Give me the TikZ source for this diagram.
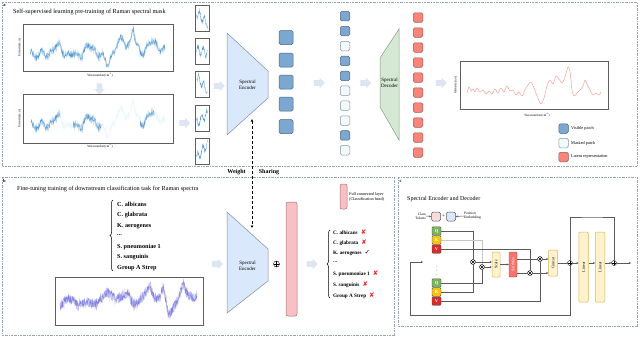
\documentclass[tikz,border=0pt]{standalone}
\usepackage{fontspec}
\setmainfont{Liberation Serif}
\newfontfamily\dejavu{DejaVu Sans}
\usetikzlibrary{shapes.arrows,decorations.pathreplacing,arrows.meta,calc}

\definecolor{encfill}{HTML}{DAE8FC}
\definecolor{encdraw}{HTML}{7F8FA8}
\definecolor{decfill}{HTML}{D5E8D4}
\definecolor{decdraw}{HTML}{8A9A88}
\definecolor{visfill}{HTML}{7BA7D0}
\definecolor{visdraw}{HTML}{4F6780}
\definecolor{maskfill}{HTML}{F2FAFD}
\definecolor{maskdraw}{HTML}{8A96A2}
\definecolor{latfill}{HTML}{F7857A}
\definecolor{latdraw}{HTML}{9A5A55}
\definecolor{fatarr}{HTML}{DDE5F3}
\definecolor{panel}{HTML}{9AA4B0}
\definecolor{specblue}{HTML}{5B9BD0}
\definecolor{speclight}{HTML}{BCD8EE}
\definecolor{specmask}{HTML}{EDF8FB}
\definecolor{specred}{HTML}{F4A49C}
\definecolor{specpurple}{HTML}{8383E2}
\definecolor{pinkbar}{HTML}{F8C0C4}
\definecolor{pinkdraw}{HTML}{A07474}
\definecolor{qgreen}{HTML}{7DB35E}
\definecolor{kyellow}{HTML}{F2C418}
\definecolor{vred}{HTML}{D92B2B}
\definecolor{boxfill}{HTML}{FFF2CC}
\definecolor{boxdraw}{HTML}{D6B656}
\definecolor{softfill}{HTML}{F8736B}
\definecolor{clsfill}{HTML}{F8DCDC}
\definecolor{lineg}{HTML}{5A5A5A}
\definecolor{framec}{HTML}{5E5E5E}
\definecolor{xred}{HTML}{E8202A}

\def\rmnfa#1{52+4*sin(11*#1)+3*sin(23*#1+30)+2*sin(41*#1)+12/(1+((#1-107)/3)^2)-22/(1+((#1-133)/2)^2)-6/(1+((#1-120)/8)^2)-5/(1+((#1-150)/10)^2)}
\def\rmnfb#1{301+3*sin(9*#1)+2.5*sin(19*#1+50)-3*sin(4*#1)-14/(1+((#1-150)/3)^2)-16/(1+((#1-163)/2.5)^2)+10/(1+((#1-169)/3)^2)-12/(1+((#1-183)/3)^2)-6/(1+((#1-128)/3)^2)}

\newcommand\specAplot[3]{%
  \pgfmathsetseed{#3}%
  \draw[#2] plot[domain=30:165,samples=300] (\x,{#1+\rmnfa{\x}+3*rand});%
}
\newcommand\specBplot[2]{%
  \pgfmathsetseed{#2}%
  \draw[#1] plot[domain=60:197,samples=380] (\x,{\rmnfb{\x}+5*rand});%
}
\newcommand\snip[4]{%
  \pgfmathsetseed{#4}%
  \begin{scope}
    \clip (196,#1+1) rectangle (208,#1+25);
    \draw[specblue,line width=0.3pt] plot[domain=196.5:207.5,samples=45] (\x,{#1+13+#2*(\x-202)+4*sin(70*\x+#3)+2.5*rand});
  \end{scope}
  \draw[frame] (195,#1) rectangle (209,#1+26);
}

\begin{document}
\begin{tikzpicture}[x=1pt,y=-1pt,
  panelbox/.style={draw=panel,line width=0.5pt,dash pattern=on 2pt off 1pt on 0.5pt off 1pt},
  frame/.style={draw=framec,line width=0.7pt},
  plab/.style={font=\fontsize{4.5}{5}\selectfont\bfseries,inner sep=0},
  tl/.style={font=\fontsize{6.2}{7}\selectfont,anchor=west,inner sep=0},
  lab/.style={font=\fontsize{3.2}{3.8}\selectfont,inner sep=0},
  leg/.style={font=\fontsize{4.3}{5}\selectfont,anchor=west,inner sep=0},
  enctxt/.style={font=\fontsize{5}{5.8}\selectfont,align=center,inner sep=0},
  cls/.style={font=\fontsize{6.2}{7}\selectfont\bfseries,anchor=west,inner sep=0},
  clsb/.style={font=\fontsize{5.2}{6}\selectfont\bfseries,anchor=west,inner sep=0},
  fat/.style={single arrow,fill=fatarr,draw=none,inner sep=2.6pt,minimum height=11pt,single arrow head extend=2.4pt},
  sq/.style={rectangle,rounded corners=1.5pt,line width=0.5pt,inner sep=0,minimum size=#1},
  vis/.style={sq=#1,fill=visfill,draw=visdraw},
  msk/.style={sq=#1,fill=maskfill,draw=maskdraw},
  lat/.style={sq=#1,fill=latfill,draw=latdraw},
  pinkst/.style={rectangle,rounded corners=2pt,fill=pinkbar,draw=pinkdraw,line width=0.5pt,inner sep=0},
  brc/.style={decorate,decoration={brace,amplitude=3pt},line width=0.5pt},
  cl/.style={draw=lineg,line width=0.5pt},
  arr/.style={-{Stealth[length=2pt,width=2pt]}},
  qkv/.style={rectangle,rounded corners=1pt,draw=gray!60!black,line width=0.4pt,minimum width=9pt,minimum height=8.5pt,inner sep=0,text=white,font=\fontsize{4.5}{5}\selectfont\bfseries},
  ybox/.style={rectangle,rounded corners=1pt,fill=boxfill,draw=boxdraw,line width=0.5pt,inner sep=0,font=\fontsize{4}{5}\selectfont},
  otimes/.style={circle,draw=black,line width=0.4pt,minimum size=5pt,inner sep=0,fill=white,
    path picture={\draw[line width=0.4pt] (path picture bounding box.north west)--(path picture bounding box.south east) (path picture bounding box.north east)--(path picture bounding box.south west);}},
  oplus/.style={circle,draw=black,line width=0.4pt,minimum size=#1,inner sep=0,fill=white,
    path picture={\draw[line width=0.4pt] (path picture bounding box.north)--(path picture bounding box.south) (path picture bounding box.east)--(path picture bounding box.west);}},
  small/.style={font=\fontsize{3.6}{4.2}\selectfont,inner sep=0}
]
\useasboundingbox (0,0) rectangle (640,338);
\fill[white] (0,0) rectangle (640,338);

%================ Panel a ================
\draw[panelbox] (2,2) rectangle (637,166);
\node[plab] (la) at (4.5,5.5) {a};
\node[tl] (ta) at (13,12) {Self-supervised learning pre-training of Raman spectral mask};

% spectrum 1
\specAplot{0}{speclight,line width=0.9pt}{11}
\specAplot{0}{specblue,line width=0.3pt}{12}
\draw[frame] (23,24) rectangle (173,71);
\node[lab,rotate=90] (ya1) at (19.5,47.5) {Intensity(a.u.)};
\node[lab] (xa1) at (100,75.5) {Wavenumber(cm\textsuperscript{-1})};

\node[fat,shape border rotate=270] (fd) at (99.5,87.5) {};

% spectrum 2 (masked)
\specAplot{71}{specmask,line width=0.7pt}{11}
\specAplot{71}{specmask,line width=0.3pt}{12}
\begin{scope}
  \clip (31,94) rectangle (60,143) (73,94) rectangle (101,143) (140,94) rectangle (154,143);
  \specAplot{71}{speclight,line width=0.9pt}{11}
  \specAplot{71}{specblue,line width=0.3pt}{12}
\end{scope}
\draw[frame] (23,94) rectangle (173,143);
\node[lab,rotate=90] (ya2) at (19.5,118.5) {Intensity(a.u.)};
\node[lab] (xa2) at (100,146.5) {Wavenumber(cm\textsuperscript{-1})};

\node[fat] (f1) at (183.5,123) {};

% patches
\snip{5}{1.0}{0}{21}
\snip{38}{0.2}{90}{22}
\snip{71}{1.2}{45}{23}
\snip{105}{-0.8}{200}{24}
\snip{138}{-1.4}{120}{25}

\node[fat] (f2) at (218,86) {};

% encoder a
\fill[encfill,draw=encdraw,line width=0.5pt] (227,33) -- (268,71) -- (268,98) -- (227,135) -- cycle;
\node[enctxt] (enca) at (247.5,85) {Spectral\\Encoder};

% visible tokens
\foreach \i/\yy in {1/37.5,2/60,3/82,4/104,5/126.5}{
  \node[vis=14pt] (v\i) at (286,\yy) {};
}
\node[fat] (f3) at (318,83) {};

% masked column
\foreach \i/\t in {0/v,1/v,2/m,3/v,4/v,5/m,6/m,7/m,8/v,9/m}{
  \pgfmathsetmacro\yy{16.2+14.9*\i}
  \if\t v
    \node[vis=9.5pt] (c\i) at (345,\yy) {};
  \else
    \node[msk=9.5pt] (c\i) at (345,\yy) {};
  \fi
}
\node[fat] (f4) at (364.5,83) {};

% decoder
\fill[decfill,draw=decdraw,line width=0.5pt] (380,58) -- (399,29) -- (399,140) -- (380,107) -- cycle;
\node[enctxt] (deca) at (389.5,83) {Spectral\\Decoder};

% latent column
\foreach \i in {0,...,9}{
  \pgfmathsetmacro\yy{17.5+15*\i}
  \node[lat=9.5pt] (r\i) at (418,\yy) {};
}
\node[fat] (f5) at (440,83) {};

% output spectrum
\draw[specred,line width=0.5pt] plot[smooth,tension=0.5] coordinates {(467,93)(469,87)(471,91)(473,89)(475,92)(477,88)(480,92)(483,90)(486,94)(489,91)(492,94)(495,89)(498,93)(501,88)(504,92)(507,86)(510,91)(513,90)(516,95)(519,92)(522,96)(525,90)(528,85)(531,82)(534,88)(537,96)(541,104)(544,98)(547,86)(550,80)(553,84)(556,76)(559,79)(562,83)(565,77)(568,67)(570,72)(572,90)(574,96)(577,93)(580,90)(583,86)(585,80)(587,84)(590,90)(593,95)(596,93)(599,95)(601,92)};
\draw[frame] (460,61) rectangle (608,109);
\node[lab,rotate=90] (yo) at (455.5,85) {Intensity(a.u.)};
\node[lab] (xo) at (537,115) {Wavenumber(cm\textsuperscript{-1})};

% legend
\node[vis=9.5pt] (lg1) at (563.5,128.5) {};
\node[msk=9.5pt] (lg2) at (563.5,143) {};
\node[lat=9.5pt] (lg3) at (563.5,157) {};
\node[leg] (lt1) at (571,128.5) {Visible patch};
\node[leg] (lt2) at (571,143) {Masked patch};
\node[leg] (lt3) at (571,157) {Latent representation};

%================ Weight sharing ================
\coordinate (wsa) at (252,119);
\coordinate (wsb) at (252,228);
\draw[line width=0.7pt,dash pattern=on 3pt off 2pt,{Stealth[length=3pt,width=2.6pt]}-{Stealth[length=3pt,width=2.6pt]}] (wsa) -- (wsb);
\node[font=\fontsize{6}{7}\selectfont\bfseries,inner sep=0] (wt1) at (236.5,172) {Weight};
\node[font=\fontsize{6}{7}\selectfont\bfseries,inner sep=0] (wt2) at (269,172) {Sharing};

%================ Panel b ================
\draw[panelbox] (2,177) rectangle (394,335);
\node[plab] (lb) at (4.5,181) {b};
\node[tl] (tb) at (17,189) {Fine-tuning training of downstream classification task for Raman spectra};

\draw[brc] (113,271) -- (113,200);
\node[cls] (k1) at (117,204) {C. albicans};
\node[cls] (k2) at (117,215) {C. glabrata};
\node[cls] (k3) at (117,226) {K. aerogenes};
\node[cls] (k4) at (117,235) {...};
\node[cls] (k5) at (117,247) {S. pneumoniae 1};
\node[cls] (k6) at (117,257.5) {S. sanguinis};
\node[cls] (k7) at (117,268.5) {Group A Strep};

\specBplot{specpurple!45,line width=0.8pt}{31}
\specBplot{specpurple,line width=0.3pt}{32}
\draw[frame] (55,277) rectangle (203,325);

\node[fat] (f6) at (216,264) {};
\fill[encfill,draw=encdraw,line width=0.5pt] (227,212) -- (268,249) -- (268,281) -- (227,313) -- cycle;
\node[enctxt] (encb) at (247.5,266) {Spectral\\Encoder};
\node[oplus=6pt] (pb) at (276.5,264) {};
\node[pinkst,minimum width=11pt,minimum height=114pt] (head) at (291.5,259) {};
\node[fat] (f7) at (311,264) {};

\draw[brc] (330,298) -- (330,230);
\node[clsb] (o1) at (333,232) {C. albicans\hspace{3pt}\textcolor{xred}{\dejavu\fontsize{6.5}{7}\selectfont ✘}};
\node[clsb] (o2) at (333,242.5) {C. glabrata\hspace{3pt}\textcolor{xred}{\dejavu\fontsize{6.5}{7}\selectfont ✘}};
\node[clsb] (o3) at (333,253) {K. aerogenes\hspace{3pt}{\dejavu\fontsize{6.5}{7}\selectfont ✓}};
\node[clsb] (o4) at (333,262.5) {...};
\node[clsb] (o5) at (333,274) {S. pneumoniae 1\hspace{3pt}\textcolor{xred}{\dejavu\fontsize{6.5}{7}\selectfont ✘}};
\node[clsb] (o6) at (333,284.5) {S. sanguinis\hspace{3pt}\textcolor{xred}{\dejavu\fontsize{6.5}{7}\selectfont ✘}};
\node[clsb] (o7) at (333,295.5) {Group A Strep\hspace{3pt}\textcolor{xred}{\dejavu\fontsize{6.5}{7}\selectfont ✘}};

\node[pinkst,minimum width=7pt,minimum height=25pt] (hl) at (343.5,196.5) {};
\node[leg,font=\fontsize{4.2}{5}\selectfont,align=left] (hlt) at (349,197) {Full connected layer\\(Classification head)};

%================ Panel c ================
\draw[panelbox] (398,177) rectangle (637,326);
\node[plab] (lc) at (400.5,181) {c};
\node[tl,font=\fontsize{6}{7}\selectfont] (tc) at (407,199) {Spectral Encoder and Decoder};

\node[small,align=right,anchor=east] (clst) at (426,216) {Class\\Tokens};
\node[sq=9pt,fill=clsfill,draw=gray!70!black] (clsq) at (436,216.5) {};
\node[font=\fontsize{5}{6}\selectfont,inner sep=0] (plus) at (443.5,216.5) {+};
\node[sq=9pt,fill=encfill,draw=gray!70!black] (possq) at (451,216.5) {};
\node[small,align=left,anchor=west] (post) at (464,216) {Position\\Embedding};
\draw[cl,arr] (clst.east) -- (clsq.west);
\draw[cl,arr] (post.west) -- (possq.east);

\node[qkv,fill=qgreen] (qt) at (436.5,231) {Q};
\node[qkv,fill=kyellow] (kt) at (436.5,240) {K};
\node[qkv,fill=vred] (vt) at (436.5,249) {V};
\node[font=\fontsize{5}{6}\selectfont,inner sep=0] (dots) at (437,268) {$\vdots$};
\node[qkv,fill=qgreen] (qb) at (436.5,283) {Q};
\node[qkv,fill=kyellow] (kb) at (436.5,292) {K};
\node[qkv,fill=vred] (vb) at (436.5,301) {V};

\node[otimes] (m1) at (473,262) {};
\node[otimes] (m2) at (482,267) {};
\node[otimes] (m3) at (540,259) {};
\node[otimes] (m4) at (530,273) {};
\node[ybox,minimum width=8pt,minimum height=25pt] (scale) at (496,264.5) {\rotatebox{90}{Scale}};
\node[rectangle,rounded corners=1pt,fill=softfill,draw=softfill!70!black,line width=0.4pt,inner sep=0,minimum width=8pt,minimum height=25pt,text=white,font=\fontsize{4}{5}\selectfont] (soft) at (513,264.5) {\rotatebox{90}{SoftMax}};
\node[ybox,minimum width=9pt,minimum height=26pt] (concat) at (553,263) {\rotatebox{90}{Concat}};
\node[oplus=5pt] (p1) at (570,263) {};
\node[ybox,minimum width=9.5pt,minimum height=70pt] (lin1) at (583.5,267) {\rotatebox{90}{Linear}};
\node[ybox,minimum width=9.5pt,minimum height=70pt] (lin2) at (600,267) {\rotatebox{90}{Linear}};
\node[oplus=5pt] (p2) at (614,263) {};
\coordinate (outc) at (631,263);
\coordinate (loopin) at (423,262);
\coordinate (skiptop) at (592,217);

\draw[cl] (qt.east) -| (m1.north);
\draw[cl] (kb.east) -| (m1.south);
\draw[cl,draw=gray!45] (kt.east) -| (m2.north);
\draw[cl] (qb.east) -| (m2.south);
\draw[cl] (vt.east) -| (m4.north);
\draw[cl] (vb.east) -| (m3.south);
\draw[cl,arr] (m1.east) -- (m1.east -| scale.west);
\draw[cl,arr] (m2.east) -- (m2.east -| scale.west);
\draw[cl,arr] (scale.east) -- (soft.west);
\draw[cl] (soft.east |- m3) -- (m3.west);
\draw[cl] (soft.east |- m4) -- (m4.west);
\draw[cl,arr] (m3.east) -- (m3.east -| concat.west);
\draw[cl,arr] (m4.east) -- (m4.east -| concat.west);
\draw[cl] (concat.east |- p1) -- (p1.west);
\draw[cl,arr] (p1.east) -- (p1.east -| lin1.west);
\draw[cl,arr] (lin1.east |- p1) -- (lin1.east |- p1 -| lin2.west);
\draw[cl,arr] (lin2.east |- p2) -- (p2.west);
\draw[cl,arr] (p2.east) -- (outc);
\draw[cl] (p1.north) |- (skiptop) -| (p2.north);
\draw[cl,arr] (p1.south) |- (410,315) |- (loopin);

\end{tikzpicture}
\end{document}
